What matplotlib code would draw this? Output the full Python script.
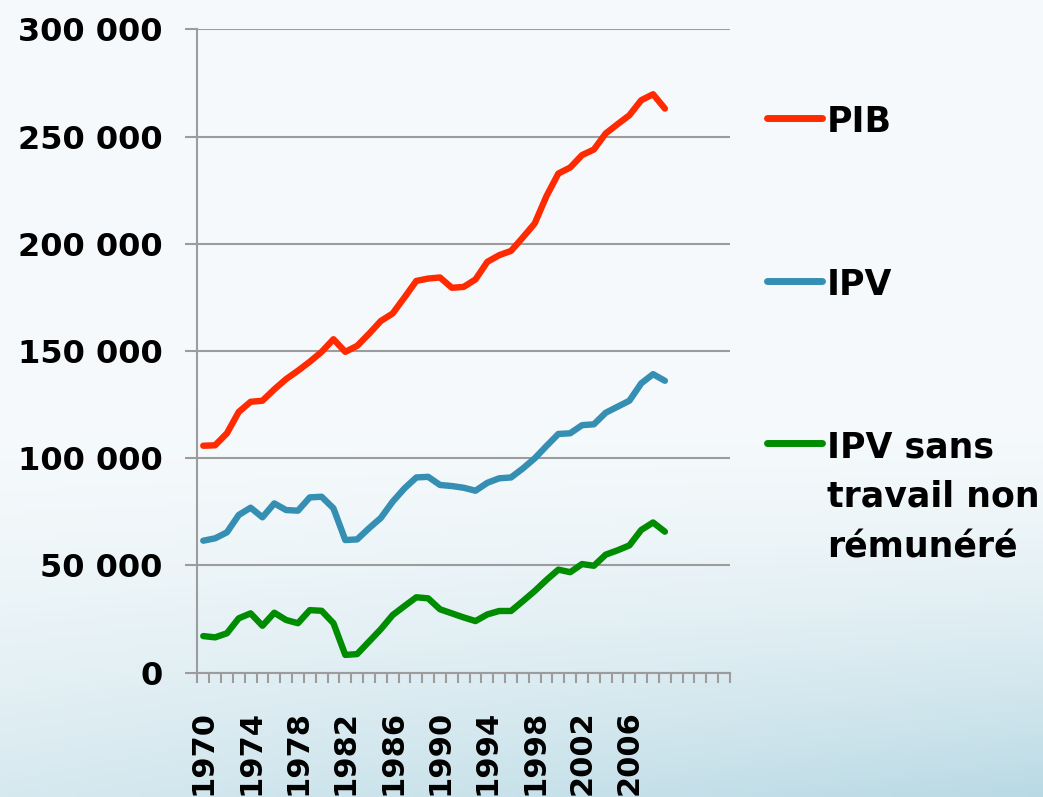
import numpy as np
import matplotlib
matplotlib.use("Agg")
import matplotlib.pyplot as plt
from matplotlib.lines import Line2D
from matplotlib.ticker import FuncFormatter, MultipleLocator

# categories de l'axe (1970-2014), donnees jusqu'en 2009
annees = list(range(1970, 2015))
pib = [105800, 106000, 111600, 121600, 126300, 126800, 132100, 136900, 140800, 145000,
       149600, 155500, 149600, 152400, 158000, 164000, 167500, 175000, 182700, 183800,
       184300, 179500, 179900, 183400, 191600, 194700, 196700, 203000, 209500, 222300,
       232800, 235600, 241400, 244000, 251500, 255800, 260000, 267000, 269800, 263100]
ipv = [61500, 62600, 65400, 73500, 76900, 72400, 78900, 75800, 75500, 81700,
       82000, 76600, 61800, 62100, 67300, 72100, 79700, 85900, 91000, 91300,
       87500, 87000, 86200, 84800, 88500, 90600, 91000, 95200, 99900, 105700,
       111300, 111600, 115400, 115800, 121200, 124000, 126800, 134900, 139200, 136100]
ipv_sans = [17000, 16400, 18300, 25300, 27600, 21800, 27900, 24500, 23000, 29100,
            28800, 23000, 8200, 8600, 14400, 20200, 26800, 31000, 35100, 34600,
            29500, 27600, 25700, 24000, 27100, 28700, 28700, 33300, 38000, 43200,
            48000, 46800, 50600, 49800, 55000, 57000, 59300, 66500, 70000, 65700]
noms = ["PIB", "IPV", "IPV sans\ntravail non\nrémunéré"]
couleurs = ["#ff2a00", "#348fb3", "#008c00"]

plt.rcParams["font.family"] = ["DejaVu Sans"]
plt.rcParams["font.weight"] = "bold"

fig = plt.figure(figsize=(10.43, 7.97), dpi=100)

# fond en degrade
yy, xx = np.mgrid[0:1:200j, 0:1:260j]
t = np.clip((yy - 0.5) / 0.5, 0, 1) ** 1.6 * (0.55 + 0.5 * xx)
haut = np.array([0.965, 0.98, 0.987])
bas = np.array([0.74, 0.86, 0.90])
img = np.clip(haut + (bas - haut) * t[..., None], 0, 1)
bg = fig.add_axes([0, 0, 1, 1], zorder=-1)
bg.imshow(img, extent=[0, 1, 0, 1], aspect="auto")
bg.axis("off")

ax = fig.add_axes([0.1892, 0.1562, 0.5107, 0.8068])
ax.set_facecolor("none")
x = np.arange(len(pib))
for vals, c in zip([pib, ipv, ipv_sans], couleurs):
    ax.plot(x, vals, color=c, lw=4.6, solid_capstyle="round",
            solid_joinstyle="round", clip_on=False, zorder=3)

ax.set_xlim(-0.5, len(annees) - 0.5)
ax.set_ylim(0, 300000)
ax.yaxis.set_major_locator(MultipleLocator(50000))
ax.yaxis.set_major_formatter(FuncFormatter(lambda v, p: f"{int(v):,}".replace(",", " ")))
ax.grid(axis="y", color="#9c9c9c", lw=1.5)
ax.set_axisbelow(True)
for s in ["top", "right"]:
    ax.spines[s].set_visible(False)
for s in ["left", "bottom"]:
    ax.spines[s].set_color("#9c9c9c")
    ax.spines[s].set_linewidth(1.5)

idx = list(range(0, 37, 4))
ax.set_xticks(idx)
ax.set_xticklabels([str(annees[i]) for i in idx])
ax.set_xticks(np.arange(-0.5, len(annees)), minor=True)
ax.tick_params(axis="x", which="major", length=0, pad=27, rotation=90, labelsize=22)
ax.tick_params(axis="x", which="minor", length=7, width=1.5, color="#9c9c9c", direction="out")
ax.tick_params(axis="y", length=9, width=1.5, color="#9c9c9c", pad=16, labelsize=23)

# legende a droite
H = 797.0
lignes_y = [118, 281, 443]
bases = [[132], [295], [457, 507, 558]]
for nom, c, ly, bl in zip(noms, couleurs, lignes_y, bases):
    fig.add_artist(Line2D([767 / 1043, 822 / 1043], [1 - ly / H, 1 - ly / H],
                          color=c, lw=5, solid_capstyle="round"))
    for txt, b in zip(nom.split("\n"), bl):
        fig.text(827 / 1043, 1 - b / H, txt, fontsize=25, fontweight="bold",
                 va="baseline", ha="left")

fig.savefig("out.png", dpi=100)
